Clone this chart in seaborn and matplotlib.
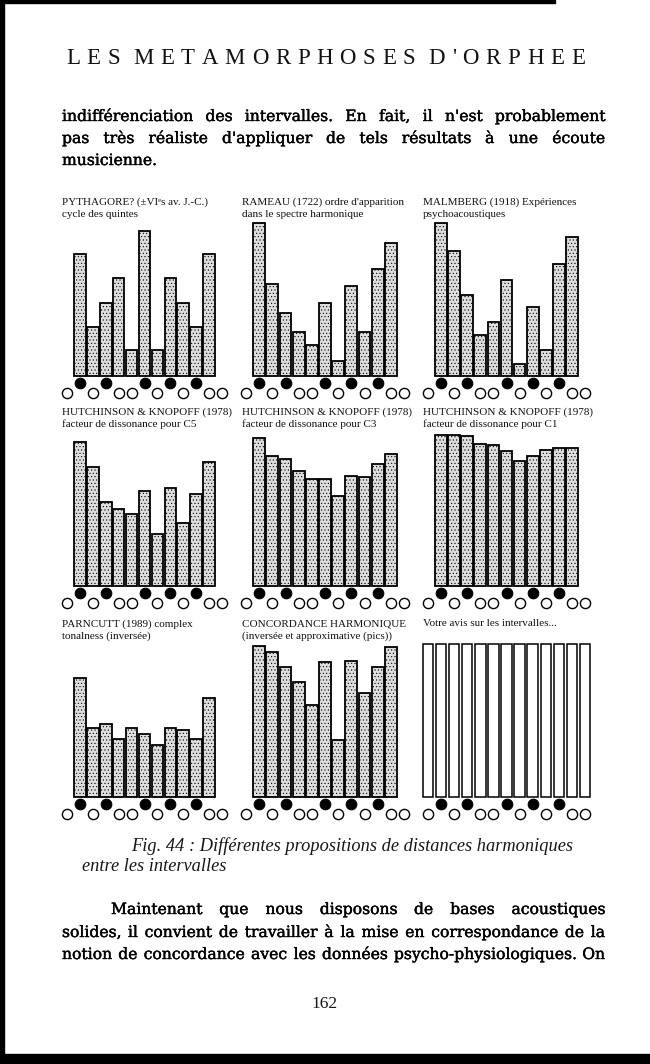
import matplotlib
matplotlib.use("Agg")
import matplotlib.pyplot as plt
import matplotlib.patheffects as pe
import seaborn as sns
import pandas as pd
from matplotlib.patches import Rectangle

sns.set_theme(style="white")
plt.rcParams["font.family"] = ["Liberation Serif", "DejaVu Serif"]
plt.rcParams["hatch.linewidth"] = 0.4

# ---------------- data ----------------
keys = list(range(13))                      # chromatic positions C .. C'
black_keys = [1, 3, 6, 8, 10]
white_keys = [0, 2, 4, 5, 7, 9, 11, 12]
intervals = list(range(1, 12))              # minor 2nd .. major 7th

pythagore = [80, 32, 48, 64, 17, 95, 17, 64, 48, 32, 80]
rameau    = [100, 60, 41, 29, 20, 48, 10, 59, 29, 70, 87]
malmberg  = [100, 82, 53, 27, 35, 63, 8, 45, 17, 73, 91]
hk_c5     = [94, 78, 55, 50, 47, 62, 34, 64, 41, 60, 81]
hk_c3     = [97, 85, 83, 75, 70, 70, 59, 72, 71, 80, 86]
hk_c1     = [99, 99, 98, 93, 92, 88, 82, 85, 89, 90, 90]
parncutt  = [78, 45, 48, 38, 45, 41, 34, 45, 44, 38, 65]
concord   = [99, 95, 85, 75, 60, 88, 37, 89, 68, 85, 98]
votre     = [100] * 13

titles = [
    ("PYTHAGORE? (±VIᵉs av. J.-C.)", "cycle des quintes"),
    ("RAMEAU (1722) ordre d'apparition", "dans le spectre harmonique"),
    ("MALMBERG (1918) Expériences", "psychoacoustiques"),
    ("HUTCHINSON & KNOPOFF (1978)", "facteur de dissonance pour C5"),
    ("HUTCHINSON & KNOPOFF (1978)", "facteur de dissonance pour C3"),
    ("HUTCHINSON & KNOPOFF (1978)", "facteur de dissonance pour C1"),
    ("PARNCUTT (1989) complex", "tonalness (inversée)"),
    ("CONCORDANCE HARMONIQUE", "(inversée et approximative (pics))"),
    ("Votre avis sur les intervalles...", ""),
]
series = [pythagore, rameau, malmberg, hk_c5, hk_c3, hk_c1, parncutt, concord, votre]

header = "LES METAMORPHOSES D'ORPHEE"
para1 = ["indifférenciation des intervalles. En fait, il n'est probablement",
         "pas très réaliste d'appliquer de tels résultats à une écoute",
         "musicienne."]
caption = ["Fig. 44 : Différentes propositions de distances harmoniques",
           "entre les intervalles"]
para2 = ["Maintenant que nous disposons de bases acoustiques",
         "solides, il convient de travailler à la mise en correspondance de la",
         "notion de concordance avec les données psycho-physiologiques. On"]
page_no = "162"

# ---------------- layout (pixels) ----------------
W, H = 650, 1064
fig = plt.figure(figsize=(W / 100, H / 100), dpi=100)
fig.patch.set_facecolor("white")

def fx(x): return x / W
def fy(y): return 1 - y / H

col_first = [67, 246, 428]        # centre of first key circle
col_last = [222, 404, 585]
row_base = [376, 586, 797]        # bar baselines
row_title = [202, 412, 624]
title_x = [62, 242, 423]
px_per_unit = 1.53
ylo, yhi = -14.5, 103

for i, (vals, (t1, t2)) in enumerate(zip(series, titles)):
    r, c = divmod(i, 3)
    s = (col_last[c] - col_first[c]) / 12
    left = col_first[c] - 0.7 * s
    width = 13.4 * s
    bottom = row_base[r] - ylo * px_per_unit          # page y of axes bottom
    height = (yhi - ylo) * px_per_unit
    ax = fig.add_axes([fx(left), fy(bottom), width / W, height / H])
    pos = intervals if len(vals) == 11 else keys
    df = pd.DataFrame({"pos": pos, "val": vals})
    if len(vals) == 11:
        sns.barplot(data=df, x="pos", y="val", native_scale=True, width=0.9,
                    color="#dedede", saturation=1, edgecolor="black",
                    linewidth=1.3, hatch=".....", ax=ax, errorbar=None)
    else:
        sns.barplot(data=df, x="pos", y="val", native_scale=True, width=0.8,
                    color="white", saturation=1, edgecolor="black",
                    linewidth=1.1, ax=ax, errorbar=None)
    ax.scatter(black_keys, [-4.6] * len(black_keys), s=58, c="black",
               edgecolors="black", linewidths=0.8, zorder=5, clip_on=False)
    ax.scatter(white_keys, [-11.4] * len(white_keys), s=54, c="white",
               edgecolors="black", linewidths=1.0, zorder=5, clip_on=False)
    ax.set_xlim(-0.7, 12.7)
    ax.set_ylim(ylo, yhi)
    ax.axis("off")
    fig.text(fx(title_x[c]), fy(row_title[r]), t1, fontsize=8.0,
             va="center", ha="left", color="#111111")
    if t2:
        fig.text(fx(title_x[c]), fy(row_title[r] + 12.5), t2, fontsize=8.0,
                 va="center", ha="left", color="#111111")

# ---------------- page text ----------------
fig.canvas.draw()
renderer = fig.canvas.get_renderer()

def width_of(t):
    return t.get_window_extent(renderer).width

def natural_width(line, **kw):
    t = fig.text(0, 0, line, **kw)
    w = width_of(t)
    t.remove()
    return w

def justify(line, x0, x1, ybase, **kw):
    words = line.split(" ")
    ts = [fig.text(0, fy(ybase), w, va="baseline", ha="left", **kw) for w in words]
    ws = [width_of(t) for t in ts]
    gap = (x1 - x0 - sum(ws)) / max(len(words) - 1, 1)
    x = x0
    for t, w in zip(ts, ws):
        t.set_x(fx(x))
        x += w + gap

def plain(line, x0, ybase, **kw):
    fig.text(fx(x0), fy(ybase), line, va="baseline", ha="left", **kw)

# header, letter-spaced
hk = dict(fontsize=16.5, family=["Liberation Serif"], color="#111111")
chars = list(header)
ts = [fig.text(0, fy(64), ch if ch != " " else "\u00a0", va="baseline", ha="left", **hk)
      for ch in chars]
ws = [width_of(t) if ch != " " else 0 for t, ch in zip(ts, chars)]
x0h, x1h = 66, 585
track = (x1h - x0h - sum(ws)) / (len(chars) - 1)
x = x0h
for t, w in zip(ts, ws):
    t.set_x(fx(x))
    x += w + track

# body font size: match the measured phrase width, but keep every line inside the block
body = dict(family=["DejaVu Serif"], color="black")
probe = 10
s1 = probe * 266 / natural_width("indifférenciation des intervalles.", fontsize=probe, **body)
lines_full = [para1[0], para1[1], para2[1], para2[2]]
s2 = probe * (543 * 0.99) / max(natural_width(l, fontsize=probe, **body) for l in lines_full)
body["fontsize"] = min(s1, s2)
body["path_effects"] = [pe.withStroke(linewidth=0.3, foreground="black")]
justify(para1[0], 62, 605, 121, **body)
justify(para1[1], 62, 605, 143, **body)
plain(para1[2], 62, 165, **body)

cap = dict(fontsize=13.2, style="italic", family=["Liberation Serif"], color="#161616")
plain(caption[0], 131, 851, **cap)
plain(caption[1], 82, 871, **cap)

justify(para2[0], 111, 605, 914, **body)
justify(para2[1], 62, 605, 937, **body)
justify(para2[2], 62, 605, 959, **body)

fig.text(0.5, fy(1008), page_no, va="baseline", ha="center", fontsize=12.5,
         family=["Liberation Serif"], color="#161616")

# scan borders
fig.patches.append(Rectangle((0, 0), fx(4), 1, transform=fig.transFigure,
                             color="black", zorder=10))
fig.patches.append(Rectangle((0, fy(1064)), 1, 10 / H, transform=fig.transFigure,
                             color="black", zorder=10))
fig.patches.append(Rectangle((0, fy(2.5)), fx(555), 2.5 / H, transform=fig.transFigure,
                             color="black", zorder=10))

fig.savefig("out.png", dpi=100, facecolor="white")
